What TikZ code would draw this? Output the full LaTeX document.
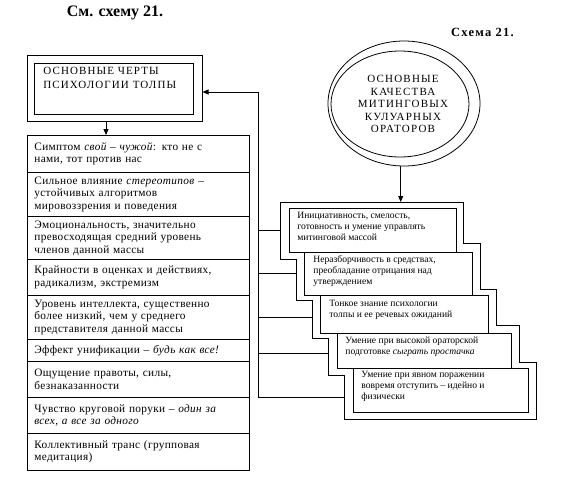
\documentclass[tikz,border=0pt]{standalone}
\usepackage{fontspec}
\setmainfont{Liberation Serif}
\usetikzlibrary{shapes.geometric,arrows.meta}
\newcommand\listfnt{\fontsize{11.3}{12.5}\selectfont\addfontfeature{LetterSpace=3}}
\newcommand\stackfnt{\fontsize{9.6}{10.8}\selectfont}
\newcommand\capsfnt{\fontsize{11}{12.5}\selectfont\addfontfeature{LetterSpace=11}}
\begin{document}
\begin{tikzpicture}[x=1pt,y=-1pt,line width=0.8pt,
  box/.style={draw,rectangle,inner sep=0pt,anchor=north west,fill=white},
  item/.style={draw,rectangle,anchor=north west,align=left,text width=208pt,inner xsep=7pt,inner ysep=1pt,font=\listfnt},
  stxt/.style={anchor=west,align=left,inner sep=0pt,font=\stackfnt},
  arr/.style={-{Triangle[length=6pt,width=5pt]}}]
\useasboundingbox (0,0) rectangle (585,485);
% titles
\node[font=\fontsize{16}{18}\selectfont\bfseries] (t1) at (115,12.5) {См. схему 21.};
\node[font=\fontsize{12.5}{14}\selectfont\bfseries\addfontfeature{LetterSpace=10}] (t2) at (482.5,32) {Схема 21.};
% left title box
\node[box,minimum width=174.7pt,minimum height=66pt] (lo) at (27,55) {};
\node[box,minimum width=159pt,minimum height=51pt] (li) at (34,63) {};
\node[anchor=north west,align=left,inner sep=0pt,font=\fontsize{11}{14}\selectfont\addfontfeature{LetterSpace=10}] (lt) at (43,66.5) {ОСНОВНЫЕ ЧЕРТЫ\\ПСИХОЛОГИИ ТОЛПЫ};
% list
\node[item,minimum height=37pt] (i1) at (27,135) {Симптом \textit{свой – чужой}: кто не с\\нами, тот против нас};
\node[item,minimum height=44pt] (i2) at (27,172) {Сильное влияние \textit{стереотипов} –\\устойчивых алгоритмов\\мировоззрения и поведения};
\node[item,minimum height=43pt] (i3) at (27,216) {Эмоциональность, значительно\\превосходящая средний уровень\\членов данной массы};
\node[item,minimum height=36pt] (i4) at (27,259) {Крайности в оценках и действиях,\\радикализм, экстремизм};
\node[item,minimum height=44pt] (i5) at (27,295) {Уровень интеллекта, существенно\\более низкий, чем у среднего\\представителя данной массы};
\node[item,minimum height=22pt] (i6) at (27,339) {Эффект унификации – \textit{будь как все!}};
\node[item,minimum height=36pt] (i7) at (27,361) {Ощущение правоты, силы,\\безнаказанности};
\node[item,minimum height=36pt] (i8) at (27,397) {Чувство круговой поруки – \textit{один за}\\\textit{всех, а все за одного}};
\node[item,minimum height=37pt] (i9) at (27,433) {Коллективный транс (групповая\\медитация)};
\coordinate (ta) at (106,135);
\draw[arr] (ta |- lo.south) -- (ta);
% ellipse
\node[draw,ellipse,minimum width=152pt,minimum height=125pt,inner sep=0pt] (eo) at (404,103.5) {};
\node[draw,ellipse,minimum width=138pt,minimum height=106pt,inner sep=0pt] (ei) at (400,104) {};
\node[align=center,inner sep=0pt,font=\capsfnt] (et) at (403,104) {ОСНОВНЫЕ\\КАЧЕСТВА\\МИТИНГОВЫХ\\КУЛУАРНЫХ\\ОРАТОРОВ};
\coordinate (etip) at (400.7,202);
\draw[arr] (etip |- eo.south) -- (etip);
% staircase frame
\draw (280,202) -- (463,202) -- (463,243) -- (480,243) -- (480,289) -- (496,289) -- (496,325) -- (519,325) -- (519,362) -- (536,362) -- (536,419) -- (344,419) -- (344,375) -- (328,375) -- (328,338) -- (312,338) -- (312,300) -- (296,300) -- (296,259) -- (280,259) -- cycle;
% stack boxes
\node[box,minimum width=167pt,minimum height=44pt] (r1) at (289,208) {};
\node[box,minimum width=168pt,minimum height=43pt] (r2) at (304,252) {};
\node[box,minimum width=168pt,minimum height=38pt] (r3) at (320,295) {};
\node[box,minimum width=174pt,minimum height=35pt] (r4) at (337,333) {};
\node[box,minimum width=175pt,minimum height=44pt] (r5) at (353,368) {};
\node[stxt] (x1) at (297,226.5) {Инициативность, смелость,\\готовность и умение управлять\\митинговой массой};
\node[stxt] (x2) at (313,271) {Неразборчивость в средствах,\\преобладание отрицания над\\утверждением};
\node[stxt] (x3) at (329,310) {Тонкое знание психологии\\толпы и ее речевых ожиданий};
\node[stxt] (x4) at (345,346.5) {Умение при высокой ораторской\\подготовке \textit{сыграть простачка}};
\node[stxt] (x5) at (361,386.5) {Умение при явном поражении\\вовремя отступить – идейно и\\физически};
% connectors
\coordinate (vtop) at (258,92);
\coordinate (vbot) at (258,397);
\coordinate (s1) at (280,230);
\coordinate (s2) at (296,273);
\coordinate (s3) at (312,317);
\coordinate (s4) at (328,353);
\coordinate (s5) at (344,397);
\draw[arr] (vtop) -- (vtop -| lo.east);
\draw (vtop) -- (vbot);
\draw (vtop |- s1) -- (s1);
\draw (vtop |- s2) -- (s2);
\draw (vtop |- s3) -- (s3);
\draw (vtop |- s4) -- (s4);
\draw (vbot) -- (s5);
\end{tikzpicture}
\end{document}
